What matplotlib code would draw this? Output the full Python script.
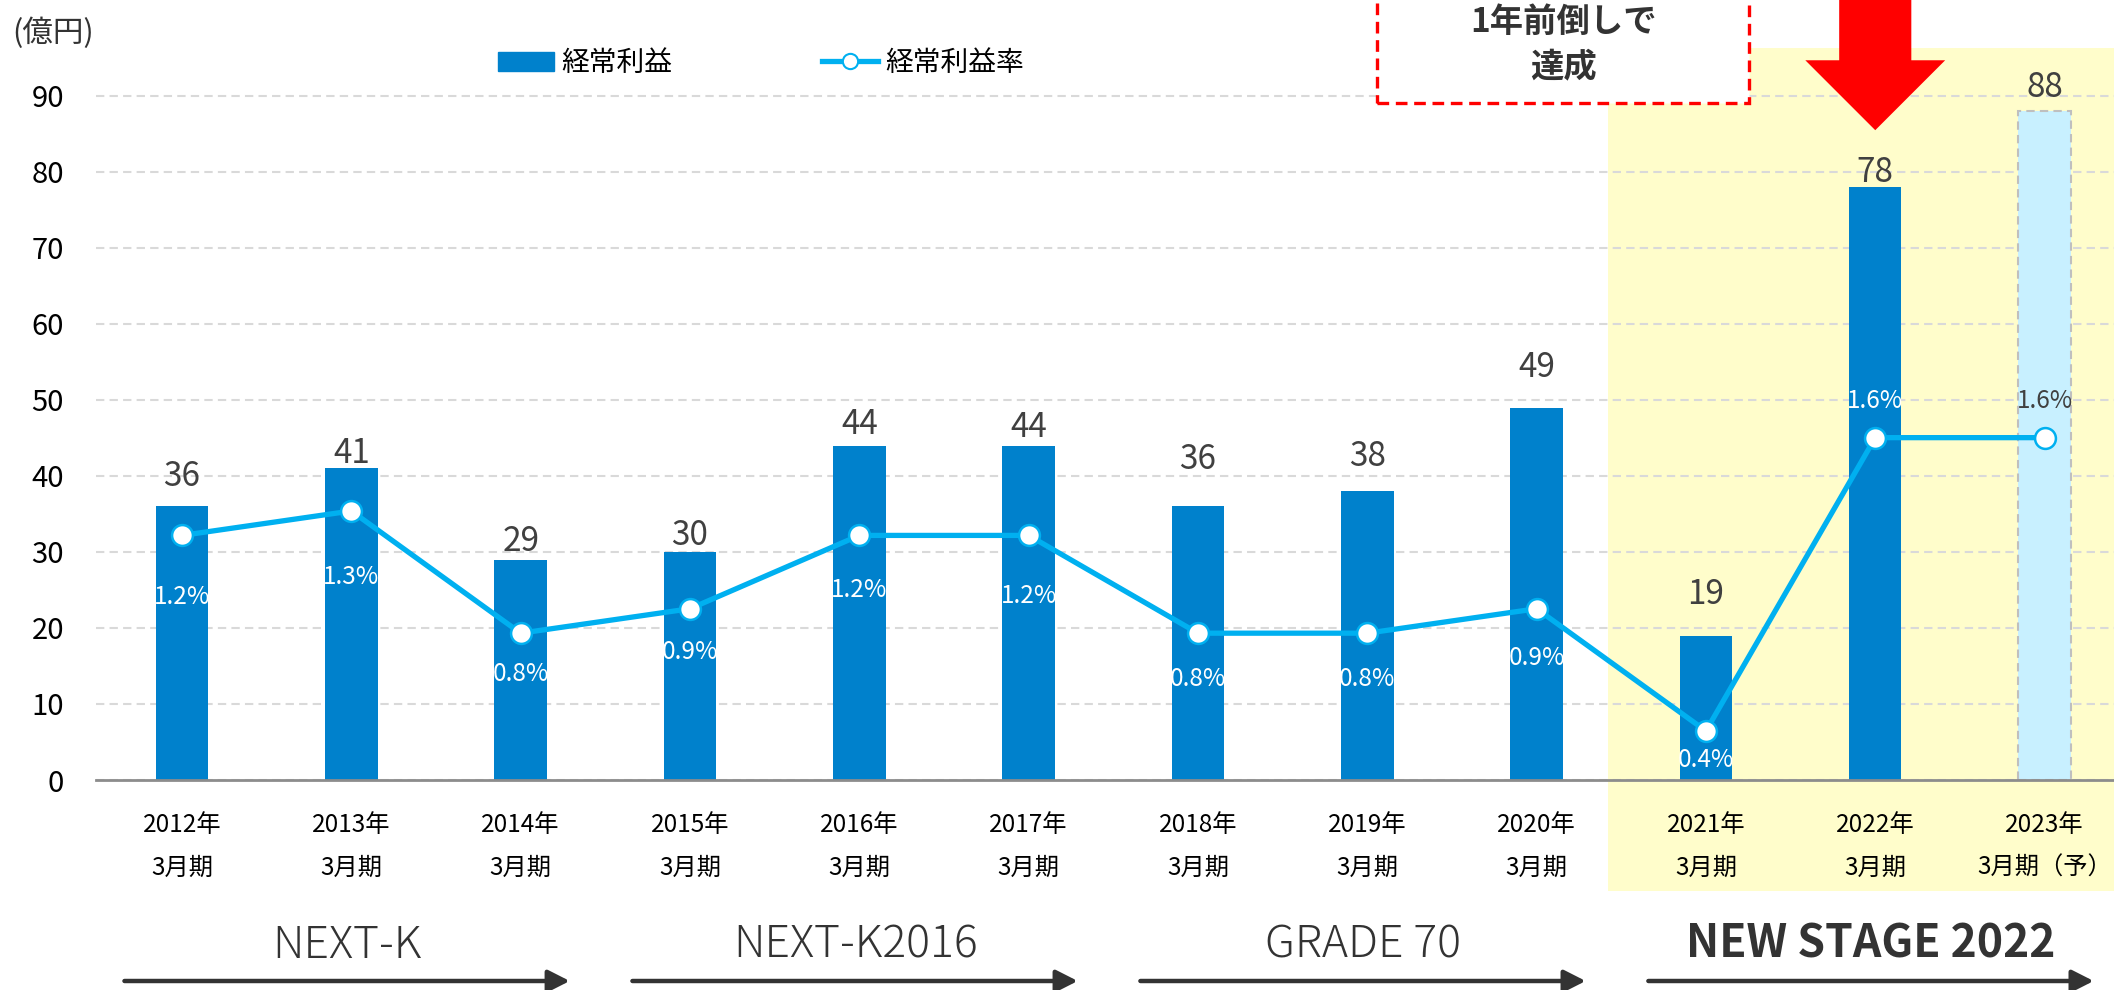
import matplotlib
matplotlib.use("Agg")
import matplotlib.pyplot as plt
from matplotlib.patches import Rectangle, Polygon, Patch
from matplotlib.lines import Line2D

plt.rcParams['font.family'] = ['Noto Sans CJK JP', 'DejaVu Sans']

# データ
years = ["2012年", "2013年", "2014年", "2015年", "2016年", "2017年",
         "2018年", "2019年", "2020年", "2021年", "2022年", "2023年"]
periods = ["3月期"] * 11 + ["3月期（予）"]
profit = [36, 41, 29, 30, 44, 44, 36, 38, 49, 19, 78, 88]        # 経常利益（億円）
margin = [1.2, 1.3, 0.8, 0.9, 1.2, 1.2, 0.8, 0.8, 0.9, 0.4, 1.6, 1.6]  # 経常利益率（%）
phases = ["NEXT-K", "NEXT-K2016", "GRADE 70", "NEW STAGE 2022"]
phase_span = [(0, 2), (3, 5), (6, 8), (9, 11)]
forecast_idx = 11
goal_idx = 10

# ラベル位置の微調整（px）
bar_dy = [30, 15, 18, 16, 21, 18, 47, 35, 40, 41, 15, 24]
pct_dy = [-62, -66, -41, -43, -55, -61, -46, -46, -49, -29, 37, 37]

BLUE = "#0081CC"; LBLUE = "#C8F0FF"; LINE = "#00B0F0"
YELLOW = "#FFFDCB"; DARK = "#404040"

W, H = 2114, 990
fig = plt.figure(figsize=(W / 100, H / 100), dpi=100)
ax = fig.add_axes([96 / W, 210 / H, 1 - 96 / W, 780 / H])
x = list(range(len(profit)))
ax.set_xlim(-0.508, 11.41)
ax.set_ylim(0, 102.63)

# 新ステージの背景
ax.add_patch(Rectangle((8.42, -14.6), 4, 110.9, facecolor=YELLOW, edgecolor="none",
                       clip_on=False, zorder=0.1))

colors = [LBLUE if i == forecast_idx else BLUE for i in x]
bars = ax.bar(x, profit, width=0.31, color=colors, zorder=2)
bars[forecast_idx].set_edgecolor("#BFBFBF")
bars[forecast_idx].set_linestyle((0, (4, 2.5)))
bars[forecast_idx].set_linewidth(1.5)

for i, v in enumerate(profit):
    ax.annotate(str(v), (i, v), xytext=(0, bar_dy[i]), textcoords="offset pixels",
                ha="center", va="center", fontsize=24, color=DARK, zorder=5)

ax.set_yticks(range(0, 91, 10))
ax.set_xticks([])
ax.tick_params(axis="y", length=0, pad=23, labelsize=21)
ax.grid(axis="y", color="#D9D9D9", lw=1.5, ls=(0, (4, 2.5)))
ax.set_axisbelow(True)
for s in ["left", "right", "top"]:
    ax.spines[s].set_visible(False)
ax.spines["bottom"].set_color("#8C8C8C")
ax.spines["bottom"].set_linewidth(2)
ax.spines["bottom"].set_zorder(3)

# x軸ラベル（2段）
for i in x:
    ax.annotate(years[i], (i, 0), xytext=(0, -45), textcoords="offset pixels",
                ha="center", va="center", fontsize=17.5, annotation_clip=False)
    ax.annotate(periods[i], (i, 0), xytext=(0, -88), textcoords="offset pixels",
                ha="center", va="center", fontsize=17.5, annotation_clip=False)

# 中期経営計画の矢印
xt = ax.get_xaxis_transform()
for name, (s, e) in zip(phases, phase_span):
    x0, x1 = s - 0.34, e + 0.29
    bold = name == "NEW STAGE 2022"
    ax.text((x0 + x1) / 2, -165 / 780, name, transform=xt, ha="center", va="center",
            fontsize=32, color="#333333", fontweight="bold" if bold else "light")
    ax.annotate("", xy=(x1, -201 / 780), xytext=(x0, -201 / 780), xycoords=xt,
                annotation_clip=False,
                arrowprops=dict(arrowstyle="-|>,head_length=0.65,head_width=0.33",
                                color="#333333", lw=3.2, mutation_scale=20,
                                shrinkA=0, shrinkB=0))

# 経常利益率（第2軸）
ax2 = ax.twinx()
ax2.set_ylim(0.1993, 3.3906)
ax2.axis("off")
ax2.plot(x, margin, color=LINE, lw=3.8, marker="o", ms=15, mfc="white",
         mec=LINE, mew=1.8, zorder=3)
for i, m in enumerate(margin):
    ax2.annotate(f"{m:.1f}%", (i, m), xytext=(0, pct_dy[i]), textcoords="offset pixels",
                 ha="center", va="center", fontsize=17.5,
                 color=DARK if i == forecast_idx else "white", zorder=5)

# 「1年前倒しで達成」
ax2.add_patch(Rectangle((7.06, 89.1), 2.196, 30, facecolor="white", edgecolor="#FF0000",
                        lw=2.4, ls=(0, (3.5, 2)), clip_on=False, zorder=4,
                        transform=ax.transData))
ax2.text(8.158, 99.7, "1年前倒しで", transform=ax.transData, ha="center", va="center",
         fontsize=24, fontweight="bold", color="#333333", zorder=5)
ax2.text(8.158, 93.7, "達成", transform=ax.transData, ha="center", va="center",
         fontsize=24, fontweight="bold", color="#333333", zorder=5)

g = goal_idx
arrow = [(g - 0.213, 106), (g + 0.213, 106), (g + 0.213, 94.7), (g + 0.413, 94.7),
         (g, 85.5), (g - 0.413, 94.7), (g - 0.213, 94.7)]
ax2.add_patch(Polygon(arrow, closed=True, facecolor="#FF0000", edgecolor="none",
                      clip_on=False, zorder=4, transform=ax.transData))

# 凡例
handles = [Patch(color=BLUE),
           Line2D([], [], color=LINE, lw=3.8, marker="o", ms=11, mfc="white", mec=LINE, mew=1.5)]
fig.legend(handles, ["経常利益", "経常利益率"], loc="center left",
           bbox_to_anchor=(498 / W, 1 - 63 / H), ncol=2, frameon=False, fontsize=20,
           handlelength=2.0, handletextpad=0.27, columnspacing=5.4, borderpad=0,
           borderaxespad=0, handleheight=0.7)

fig.text(12 / W, 1 - 33 / H, "(億円)", ha="left", va="center", fontsize=22, color="#333333")

fig.savefig("out.png", dpi=100)
